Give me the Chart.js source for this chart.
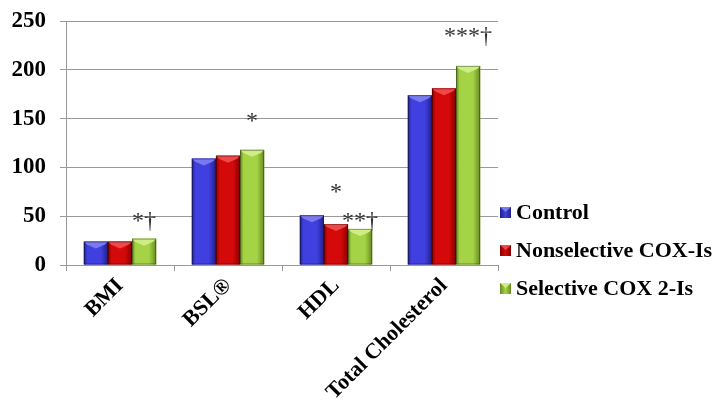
<!DOCTYPE html>
<html>
<head>
<meta charset="utf-8">
<script src="https://cdn.jsdelivr.net/npm/chart.js@4.4.0/dist/chart.umd.min.js"></script>
<style>
html, body { margin: 0; padding: 0; background: #fff; }
#wrap { width: 713px; height: 417px; position: relative; }
</style>
</head>
<body>
<div id="wrap"><canvas id="myChart" width="713" height="417"></canvas></div>
<script>
const categories = ['BMI', 'BSL®', 'HDL', 'Total Cholesterol'];
const seriesNames = ['Control', 'Nonselective COX-Is', 'Selective COX 2-Is'];
const control = [24, 109, 51, 174];
const nonselective = [24, 112, 42, 181];
const selective = [27, 118, 37, 204];
const yTicks = [0, 50, 100, 150, 200, 250];

// significance marks: [category, series, text, value where text sits]
const marks = [
    [0, 2, '*†', 44],
    [1, 2, '*', 147],
    [2, 1, '*', 74],
    [2, 2, '**†', 44],
    [3, 2, '***†', 234]
];

const colors = [
    { mid: '#4040e0', edge: '#20208a', top: '#7a7af0' },
    { mid: '#d40a0a', edge: '#860000', top: '#f04848' },
    { mid: '#a4d446', edge: '#688a22', top: '#cdee86' }
];

const serif = "'Liberation Serif', 'Times New Roman', serif";

// shading on bars to mimic the bevelled look
const barShade = {
    id: 'barShade',
    afterDatasetsDraw(chart) {
        const ctx = chart.ctx;
        chart.data.datasets.forEach((ds, di) => {
            const c = colors[di];
            chart.getDatasetMeta(di).data.forEach(bar => {
                const l = bar.x - bar.width / 2, r = bar.x + bar.width / 2;
                const t = bar.y, b = bar.base;
                const g = ctx.createLinearGradient(l, 0, r, 0);
                g.addColorStop(0, c.edge);
                g.addColorStop(0.15, c.mid);
                g.addColorStop(0.7, c.mid);
                g.addColorStop(1, c.edge);
                ctx.save();
                ctx.fillStyle = g;
                ctx.fillRect(l, t, r - l, b - t);
                // top bevel
                ctx.fillStyle = c.top;
                ctx.beginPath();
                ctx.moveTo(l, t);
                ctx.lineTo(r, t);
                ctx.lineTo(r - 3, t + 3);
                ctx.lineTo(bar.x, t + 7);
                ctx.lineTo(l + 3, t + 3);
                ctx.closePath();
                ctx.fill();
                ctx.strokeStyle = 'rgba(0,0,0,0.35)';
                ctx.lineWidth = 1;
                ctx.strokeRect(l + 0.5, t + 0.5, r - l - 1, b - t - 1);
                ctx.restore();
            });
        });
    }
};

const sigMarks = {
    id: 'sigMarks',
    afterDraw(chart) {
        const ctx = chart.ctx;
        const y = chart.scales.y;
        ctx.save();
        ctx.font = '24px ' + serif;
        ctx.fillStyle = '#333';
        ctx.textAlign = 'center';
        ctx.textBaseline = 'middle';
        marks.forEach(m => {
            const bar = chart.getDatasetMeta(m[1]).data[m[0]];
            ctx.fillText(m[2], bar.x, y.getPixelForValue(m[3]));
        });
        ctx.restore();
    }
};

const sideLegend = {
    id: 'sideLegend',
    afterDraw(chart) {
        const ctx = chart.ctx;
        ctx.save();
        ctx.font = 'bold 22px ' + serif;
        ctx.textBaseline = 'middle';
        chart.data.datasets.forEach((ds, i) => {
            const cy = 212 + i * 38;
            const c = colors[i];
            const g = ctx.createLinearGradient(500, 0, 511, 0);
            g.addColorStop(0, c.edge);
            g.addColorStop(0.5, c.mid);
            g.addColorStop(1, c.edge);
            ctx.fillStyle = g;
            ctx.fillRect(500, cy - 5, 11, 11);
            ctx.fillStyle = c.top;
            ctx.beginPath();
            ctx.moveTo(500, cy - 5);
            ctx.lineTo(511, cy - 5);
            ctx.lineTo(505.5, cy);
            ctx.closePath();
            ctx.fill();
            ctx.fillStyle = '#000';
            ctx.fillText(ds.label, 516, cy + 1);
        });
        ctx.restore();
    }
};

const ctx = document.getElementById('myChart').getContext('2d');
const myChart = new Chart(ctx, {
type: 'bar',
data: {
labels: categories,
datasets: [
    { label: seriesNames[0], data: control, backgroundColor: colors[0].mid },
    { label: seriesNames[1], data: nonselective, backgroundColor: colors[1].mid },
    { label: seriesNames[2], data: selective, backgroundColor: colors[2].mid }
]
},
options: {
responsive: false,
animation: false,
categoryPercentage: 0.67,
barPercentage: 1,
layout: { padding: { top: 21, right: 215, bottom: 0, left: 0 } },
plugins: {
    legend: { display: false },
    tooltip: { enabled: false }
},
scales: {
    x: {
        grid: { offset: true, drawOnChartArea: false, color: '#999', tickLength: 6 },
        border: { color: '#999' },
        ticks: {
            maxRotation: 45, minRotation: 45,
            color: '#000',
            font: { family: serif, size: 22, weight: 'bold' },
            padding: 2
        },
        afterFit(scale) { scale.height = 152; scale.paddingLeft = 0; scale.paddingRight = 0; }
    },
    y: {
        min: 0, max: 250,
        afterBuildTicks(scale) { scale.ticks = yTicks.map(v => ({ value: v })); },
        grid: { color: '#999', tickLength: 6 },
        border: { color: '#999' },
        ticks: {
            color: '#000',
            font: { family: serif, size: 23, weight: 'bold' },
            padding: 14
        },
        afterFit(scale) { scale.width = 66; scale.paddingTop = 0; scale.paddingBottom = 0; }
    }
}
},
plugins: [barShade, sigMarks, sideLegend]
});
</script>
</body>
</html>
